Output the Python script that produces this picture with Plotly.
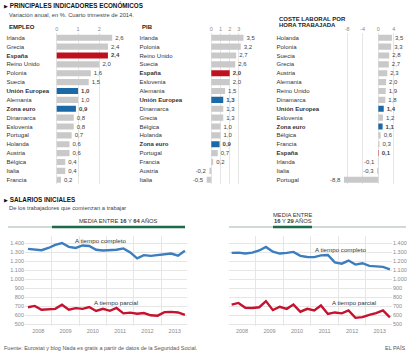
import plotly.graph_objects as go
import datetime as dt

# ---------------- DATA ----------------
emp_countries = ["Irlanda", "Grecia", "España", "Reino Unido", "Polonia", "Suecia",
                 "Unión Europea", "Alemania", "Zona euro", "Dinamarca", "Eslovenia",
                 "Portugal", "Holanda", "Austria", "Bélgica", "Italia", "Francia"]
emp_values = [2.6, 2.4, 2.4, 2.0, 1.6, 1.5, 1.0, 1.0, 0.9, 0.8, 0.8, 0.7, 0.6, 0.6, 0.4, 0.4, 0.2]

pib_countries = ["Irlanda", "Polonia", "Reino Unido", "Suecia", "España", "Eslovenia",
                 "Alemania", "Unión Europea", "Dinamarca", "Grecia", "Bélgica", "Holanda",
                 "Zona euro", "Portugal", "Francia", "Austria", "Italia"]
pib_values = [3.5, 3.2, 2.7, 2.6, 2.0, 2.0, 1.5, 1.3, 1.3, 1.3, 1.0, 1.0, 0.9, 0.7, 0.2, -0.2, -0.5]

coste_countries = ["Holanda", "Polonia", "Suecia", "Grecia", "Austria", "Alemania",
                   "Reino Unido", "Dinamarca", "Unión Europea", "Eslovenia", "Zona euro",
                   "Bélgica", "Francia", "España", "Irlanda", "Italia", "Portugal"]
coste_values = [3.5, 3.3, 2.8, 2.7, 2.3, 2.0, 1.9, 1.8, 1.4, 1.2, 1.1, 0.6, 0.3, 0.1, -0.1, -0.3, -8.8]

emp_ticks = [0, 1, 2]
pib_ticks = [0, 1, 2, 3]
coste_ticks = [-8, -4, 0, 4]

quarters = ["2008-02-15", "2008-05-15", "2008-08-15", "2008-11-15",
            "2009-02-15", "2009-05-15", "2009-08-15", "2009-11-15",
            "2010-02-15", "2010-05-15", "2010-08-15", "2010-11-15",
            "2011-02-15", "2011-05-15", "2011-08-15", "2011-11-15",
            "2012-02-15", "2012-05-15", "2012-08-15", "2012-11-15",
            "2013-02-15", "2013-05-15", "2013-08-15", "2013-11-15"]
years = ["2008", "2009", "2010", "2011", "2012", "2013"]

full_16_64 = [1340, 1332, 1325, 1350, 1385, 1405, 1362, 1350, 1378, 1372, 1330, 1322,
              1328, 1330, 1345, 1300, 1235, 1270, 1262, 1272, 1282, 1288, 1265, 1320]
part_16_64 = [690, 705, 662, 668, 672, 718, 662, 680, 672, 692, 648, 672,
              650, 682, 622, 630, 618, 625, 600, 596, 636, 638, 632, 604]
full_16_29 = [1295, 1298, 1288, 1298, 1322, 1362, 1308, 1288, 1296, 1306, 1262, 1250,
              1248, 1268, 1272, 1190, 1175, 1210, 1165, 1180, 1150, 1148, 1140, 1112]
part_16_29 = [720, 738, 685, 682, 690, 758, 658, 695, 672, 720, 640, 672,
              655, 710, 615, 632, 622, 655, 572, 580, 605, 625, 655, 578]
salary_ticks = [500, 600, 700, 800, 900, 1000, 1100, 1200, 1300, 1400]

# ---------------- STYLE ----------------
W, H = 414, 355
FONT = "Liberation Sans, Arial, sans-serif"
GREY_BAR = "#c9c9c9"
RED = "#c0101e"
BLUE = "#1c69a8"
LINE_BLUE = "#3b7dbd"
LINE_RED = "#c4122f"
TXT = "#333333"
TICK = "#8a8a8a"
GRID = "#e6e6e6"


def px(p):
    return p / W


def py(p):
    return 1 - p / H


def fy(y):
    """fractional year -> ISO date string"""
    year = int(y)
    start = dt.datetime(year, 1, 1)
    end = dt.datetime(year + 1, 1, 1)
    d = start + (end - start) * (y - year)
    return d.strftime("%Y-%m-%d %H:%M")


def fmt(v):
    return ("%.1f" % v).replace(".", ",")


def is_hl(c):
    return c in ("España", "Unión Europea", "Zona euro")


def color_of(c):
    if c == "España":
        return RED
    if c in ("Unión Europea", "Zona euro"):
        return BLUE
    return GREY_BAR


fig = go.Figure()

row_top, row_bot = 33.3, 184.2
panels = [
    # countries, values, ticks, label_x, zero_px, scale, dom0, dom1
    (emp_countries, emp_values, emp_ticks, 5.5, 56.7, 21.35, 50, 132),
    (pib_countries, pib_values, pib_ticks, 138.5, 211.3, 9.2, 185, 268),
    (coste_countries, coste_values, coste_ticks, 275.5, 378.3, 3.9, 333, 410),
]

layout_axes = {}
for i, (cats, vals, ticks, lab_x, zero, scale, d0, d1) in enumerate(panels, start=1):
    xa = "x" if i == 1 else "x%d" % i
    ya = "y" if i == 1 else "y%d" % i
    texts = ["<b>%s</b>" % fmt(v) if is_hl(c) else fmt(v) for c, v in zip(cats, vals)]
    fig.add_trace(go.Bar(
        x=vals, y=cats, orientation="h", xaxis=xa, yaxis=ya,
        marker=dict(color=[color_of(c) for c in cats], line=dict(width=0)),
        width=0.68, text=texts, textposition="outside", constraintext="none",
        textfont=dict(size=6, color="#444444", family=FONT), cliponaxis=False,
        hoverinfo="skip",
    ))
    layout_axes["xaxis" if i == 1 else "xaxis%d" % i] = dict(
        domain=[px(d0), px(d1)],
        range=[(d0 - zero) / scale, (d1 - zero) / scale],
        side="top", anchor=ya, tickmode="array", tickvals=ticks,
        ticktext=[str(t) for t in ticks], tickfont=dict(size=5.5, color=TICK, family=FONT),
        showgrid=True, gridcolor=GRID, gridwidth=1, zeroline=False, showline=False,
        ticks="", fixedrange=True,
    )
    layout_axes["yaxis" if i == 1 else "yaxis%d" % i] = dict(
        domain=[py(row_bot), py(row_top)],
        range=[16.5, -0.5], type="category", anchor="free", position=px(lab_x),
        side="right", tickmode="array", tickvals=cats,
        ticktext=["<b>%s</b>" % c if is_hl(c) else c for c in cats],
        tickfont=dict(size=6, color=TXT, family=FONT),
        showgrid=False, zeroline=False, showline=False, ticks="",
    )

# ---------------- line charts ----------------
line_panels = [
    # full, part, xaxis id, dom0, dom1, first_px, last_px, side
    (full_16_64, part_16_64, 4, 25, 187, 28, 185, "left"),
    (full_16_29, part_16_29, 5, 229, 392, 231.7, 390, "right"),
]
first_q, last_q = 2008.125, 2013.875
for full, part, n, d0, d1, fpx, lpx, side in line_panels:
    scale = (lpx - fpx) / (last_q - first_q)
    r0 = first_q - (fpx - d0) / scale
    r1 = last_q + (d1 - lpx) / scale
    xa, ya = "x%d" % n, "y%d" % n
    fig.add_trace(go.Scatter(x=quarters, y=full, mode="lines", xaxis=xa, yaxis=ya,
                             line=dict(color=LINE_BLUE, width=2.4), hoverinfo="skip"))
    fig.add_trace(go.Scatter(x=quarters, y=part, mode="lines", xaxis=xa, yaxis=ya,
                             line=dict(color=LINE_RED, width=2.4), hoverinfo="skip"))
    layout_axes["xaxis%d" % n] = dict(
        domain=[px(d0), px(d1)], range=[fy(r0), fy(r1)], type="date", anchor=ya,
        tickmode="array", tickvals=[y + "-07-02" for y in years], ticktext=years,
        tickfont=dict(size=5.5, color=TICK, family=FONT), ticks="", showgrid=False,
        zeroline=False, showline=False,
        minor=dict(tick0="2008-01-01", dtick="M12", showgrid=True, gridcolor=GRID,
                   gridwidth=1, ticks=""),
    )
    layout_axes["yaxis%d" % n] = dict(
        domain=[py(326.1), py(236.3)], range=[480, 1480], anchor=xa, side=side,
        tickmode="array", tickvals=salary_ticks, tickformat=",d",
        tickfont=dict(size=5.5, color=TICK, family=FONT), ticks="",
        showgrid=True, gridcolor=GRID, gridwidth=1, zeroline=False, showline=False,
    )

# ---------------- annotations ----------------
ann = []


def text(x, y, s, size=6, color=TXT, anchor="left", yanchor="middle"):
    ann.append(dict(x=px(x), y=py(y), xref="paper", yref="paper", text=s, showarrow=False,
                    xanchor=anchor, yanchor=yanchor,
                    font=dict(size=size, color=color, family=FONT)))


text(1.5, 5, "<span style='font-size:5px'>▶</span> <b>PRINCIPALES INDICADORES ECONÓMICOS</b>", size=6.3, color="#111111")
text(6.5, 15, "Variación anual, en %. Cuarto trimestre de 2014.", size=5.8, color="#444444")
text(6.5, 26.5, "<b>EMPLEO</b>", size=6, color="#222222")
text(139.5, 26.5, "<b>PIB</b>", size=6, color="#222222")
text(276.5, 19, "<b>COSTE LABORAL POR</b>", size=6, color="#222222")
text(276.5, 25, "<b>HORA TRABAJADA</b>", size=6, color="#222222")

text(1.5, 199.5, "<span style='font-size:5px'>▶</span> <b>SALARIOS INICIALES</b>", size=6.3, color="#111111")
text(6.5, 207.5, "De los trabajadores que comienzan a trabajar", size=5.8, color="#444444")

text(118, 221, "MEDIA ENTRE <b>16</b> Y <b>64</b> AÑOS", size=5.8, color="#333333", anchor="center")
text(292.5, 215, "MEDIA ENTRE", size=5.8, color="#333333", anchor="center")
text(292.5, 221.5, "<b>16</b> Y <b>29</b> AÑOS", size=5.8, color="#333333", anchor="center")

text(100, 240.5, "A tiempo completo", size=6.2, color="#333333", anchor="center")
text(116, 302.5, "A tiempo parcial", size=6.2, color="#333333", anchor="center")
text(340, 250, "A tiempo completo", size=6.2, color="#333333", anchor="center")
text(353.5, 302.5, "A tiempo parcial", size=6.2, color="#333333", anchor="center")

text(2, 347.5, "Fuente: Eurostat y blog Nada es gratis a partir de datos de la Seguridad Social.", size=5.5, color="#555555")
text(408, 347.5, "EL PAÍS", size=5.5, color="#555555", anchor="right")

shapes = []


def hline(x0, x1, y, color, width):
    shapes.append(dict(type="line", xref="paper", yref="paper", x0=px(x0), x1=px(x1),
                       y0=py(y), y1=py(y), line=dict(color=color, width=width)))


hline(8, 185, 227, "#cfd9d6", 2)
hline(52, 185, 227, "#1d6a4a", 2.5)
hline(229, 406, 227, "#cfd9d6", 2)
hline(273, 312, 227, "#1d6a4a", 2.5)

fig.update_layout(
    width=W, height=H, margin=dict(l=0, r=0, t=0, b=0),
    paper_bgcolor="white", plot_bgcolor="white", showlegend=False,
    separators=",.", font=dict(family=FONT, size=6, color=TXT),
    annotations=ann, shapes=shapes, bargap=0.3, hovermode=False,
    **layout_axes,
)

fig.write_html(
    "out.html",
    config={"displayModeBar": False, "staticPlot": True},
    post_script="document.body.style.margin='0';document.body.style.padding='0';"
                "document.body.style.overflow='hidden';",
)
